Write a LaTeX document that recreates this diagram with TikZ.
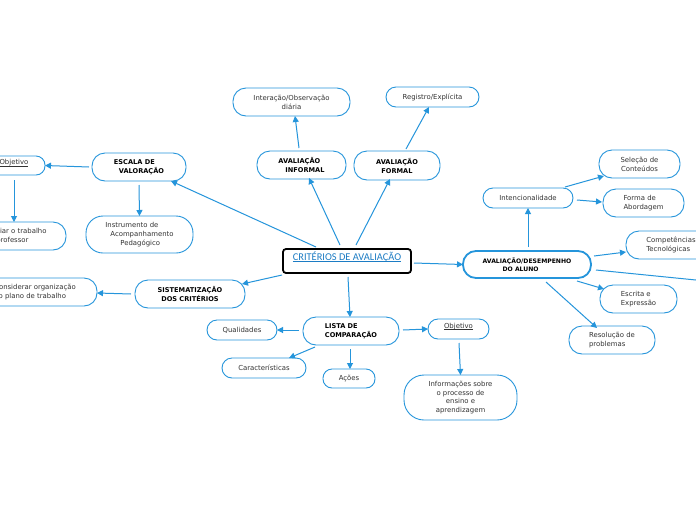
\documentclass[tikz,border=0pt]{standalone}
\usepackage{fontspec}
\setmainfont{DejaVu Sans}
\newfontfamily\carl{Carlito}
\usetikzlibrary{arrows.meta}
\definecolor{lb}{HTML}{2595DB}
\definecolor{tx}{HTML}{333333}
\definecolor{cb}{HTML}{1C7CC4}
\newcommand{\ul}[1]{\underline{\smash{#1}}}
\begin{document}
\begin{tikzpicture}[x=1pt,y=-1pt,
  box/.style={draw=lb,line width=0.9pt,rounded corners=#1,inner sep=0pt,outer sep=0pt,
    font=\fontsize{6.9}{8.8}\selectfont,text=tx},
  box/.default=10pt,
  bbox/.style={box=#1,font=\bfseries\fontsize{6.6}{9}\selectfont,text=black},
  bbox/.default=12pt,
  con/.style={draw=lb,line width=1pt,-{Triangle[length=6pt,width=6pt]}}]
\useasboundingbox (0,0) rectangle (696,520);
\clip (0,0) rectangle (696,520);
\fill[white] (0,0) rectangle (696,520);

% central
\node[draw=black,line width=1.8pt,rounded corners=3pt,minimum width=128pt,minimum height=24pt,inner sep=0pt,outer sep=0pt,
  font=\carl\fontsize{10.4}{12}\selectfont,text=cb] (crit) at (347,261) {\ul{CRITÉRIOS DE AVALIAÇÃO}};

% left branch
\node[bbox=13pt,minimum width=94pt,minimum height=28pt,align=left] (escala) at (139,167) {ESCALA DE\\\hspace*{5pt}VALORAÇÃO};
\node[box=9pt,minimum width=62pt,minimum height=19pt] (objL) at (14,165.5) {\ul{Objetivo}};
\node[box=13pt,minimum width=100pt,minimum height=28pt,align=left] (aval) at (16,236) {Avaliar o trabalho\\do professor};
\node[box=17pt,minimum width=107pt,minimum height=37pt,align=left] (instr) at (139.5,234.5) {Instrumento de\\\hspace*{5pt}Acompanhamento\\\hspace*{15pt}Pedagógico};
\node[bbox=13pt,minimum width=110pt,minimum height=28pt,align=center] (sist) at (190,294) {SISTEMATIZAÇÃO\\DOS CRITÉRIOS};
\node[box=13pt,minimum width=124pt,minimum height=28pt,align=left] (consid) at (35,292) {Considerar organização\\do plano de trabalho};

% top branch
\node[bbox=13pt,minimum width=89pt,minimum height=28pt,align=left] (inf) at (301.5,165) {AVALIAÇÃO\\\hspace*{7pt}INFORMAL};
\node[box=13pt,minimum width=117pt,minimum height=28pt,align=center] (inter) at (291.5,102) {Interação/Observação\\diária};
\node[bbox=13pt,minimum width=86pt,minimum height=29pt,align=center] (form) at (397,165.5) {AVALIAÇÃO\\FORMAL};
\node[box=10pt,minimum width=93pt,minimum height=20pt] (reg) at (432.5,97) {Registro/Explícita};

% right branch
\node[bbox=13pt,draw=lb,line width=1.8pt,minimum width=128pt,minimum height=27pt,align=left,
  font=\bfseries\fontsize{6.1}{8.5}\selectfont] (avdes) at (527,264.5) {AVALIAÇÃO/DESEMPENHO\\\hspace*{20pt}DO ALUNO};
\node[box=10pt,minimum width=90pt,minimum height=20pt] (intenc) at (528,198) {Intencionalidade};
\node[box=13pt,minimum width=81pt,minimum height=28pt,align=center] (sel) at (639.5,164) {Seleção de\\Conteúdos};
\node[box=13pt,minimum width=81pt,minimum height=28pt,align=left] (forma) at (643.5,203) {Forma de\\Abordagem};
\node[box=13pt,minimum width=90pt,minimum height=28pt,align=left] (comp) at (671,245) {Competências\\Tecnológicas};
\node[box=13pt,minimum width=77pt,minimum height=28pt,align=left] (escr) at (638.5,299) {Escrita e\\Expressão};
\node[box=13pt,minimum width=86pt,minimum height=28pt,align=left] (resol) at (612,340) {Resolução de\\problemas};
\coordinate (offR) at (720,282.4);

% bottom branch
\node[bbox=13pt,minimum width=96pt,minimum height=28pt,align=left] (lista) at (351,331) {LISTA DE\\COMPARAÇÃO};
\node[box=10pt,minimum width=70pt,minimum height=20pt] (qual) at (242,330) {Qualidades};
\node[box=10pt,minimum width=84pt,minimum height=20pt] (carac) at (264,368) {Características};
\node[box=9pt,minimum width=52pt,minimum height=19pt] (acoes) at (349,378.5) {Ações};
\node[box=10pt,minimum width=61pt,minimum height=20pt] (objR) at (458.5,329) {\ul{Objetivo}};
\node[box=20pt,minimum width=113pt,minimum height=45pt,align=center] (infos) at (460.5,397.5) {Informações sobre\\o processo de\\ensino e\\aprendizagem};

% connectors
\draw[con] ([shift={(-31,-2)}]crit.north) -- ([shift={(32,0)}]escala.south);
\draw[con] ([shift={(-7,-4)}]crit.north) -- ([shift={(7.5,-1)}]inf.south);
\draw[con] ([shift={(9,-4)}]crit.north) -- ([shift={(-7,-1)}]form.south);
\draw[con] ([shift={(3,2)}]crit.east) -- (avdes.west);
\draw[con] ([shift={(1,4)}]crit.south) -- ([shift={(-1,0)}]lista.north);
\draw[con] ([shift={(-1,2)}]crit.south west) -- ([shift={(-3,4)}]sist.north east);
\draw[con] ([shift={(-3,0)}]escala.west) -- (objL.east);
\draw[con] ([shift={(0,4)}]escala.south) -- (instr.north);
\draw[con] ([shift={(0,5)}]objL.south) -- ([shift={(-2,0)}]aval.north);
\draw[con] ([shift={(-4,0)}]sist.west) -- ([shift={(0,1)}]consid.east);
\draw[con] ([shift={(-2.5,-3)}]inf.north) -- ([shift={(3.5,0)}]inter.south);
\draw[con] ([shift={(9,-2)}]form.north) -- ([shift={(-3.5,0)}]reg.south);
\draw[con] ([shift={(1,-4)}]avdes.north) -- (intenc.south);
\draw[con] ([shift={(-8,-1)}]intenc.north east) -- ([shift={(5,-2)}]sel.south west);
\draw[con] ([shift={(4,2)}]intenc.east) -- ([shift={(-1,-1)}]forma.west);
\draw[con] ([shift={(3,-8.5)}]avdes.east) -- ([shift={(0,7)}]comp.west);
\draw[con] ([shift={(5,5.5)}]avdes.east) -- (offR);
\draw[con] ([shift={(-14,3)}]avdes.south east) -- ([shift={(4,4)}]escr.north west);
\draw[con] ([shift={(19,4)}]avdes.south) -- ([shift={(-15,2)}]resol.north);
\draw[con] ([shift={(-4,-1)}]lista.west) -- (qual.east);
\draw[con] ([shift={(12,2)}]lista.south west) -- ([shift={(25,0)}]carac.north);
\draw[con] ([shift={(-1,4)}]lista.south) -- ([shift={(1,0)}]acoes.north);
\draw[con] ([shift={(4,-1)}]lista.east) -- (objR.west);
\draw[con] ([shift={(0.5,4)}]objR.south) -- (infos.north);
\end{tikzpicture}
\end{document}
